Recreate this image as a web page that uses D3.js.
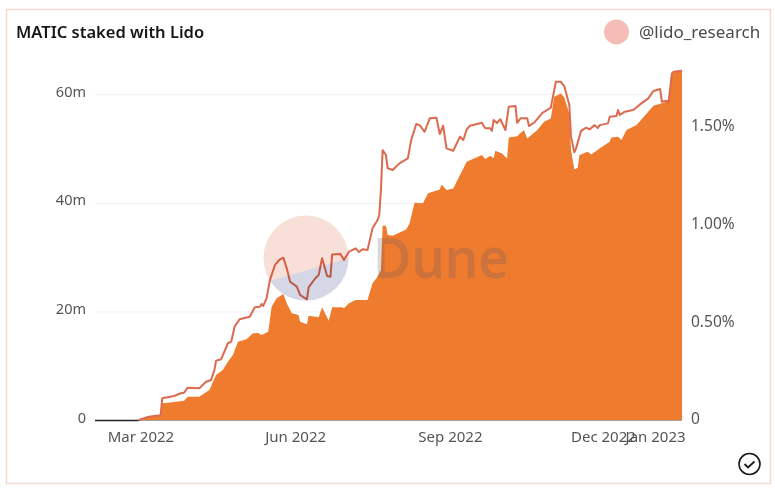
<!DOCTYPE html>
<html>
<head>
<meta charset="utf-8">
<script src="https://cdn.jsdelivr.net/npm/d3@7"></script>
<style>
  html, body { margin: 0; padding: 0; background: #fff; }
  svg { display: block; }
  text { font-family: "Noto Sans", sans-serif; }
</style>
</head>
<body>
<svg id="chart" width="775" height="492"></svg>
<script>
// MATIC staked, in millions
const stakedDates = ["2022-02-28","2022-03-06","2022-03-09","2022-03-13","2022-03-14","2022-03-20","2022-03-27","2022-03-29","2022-04-05","2022-04-11","2022-04-15","2022-04-19","2022-04-22","2022-04-25","2022-04-28","2022-05-03","2022-05-07","2022-05-10","2022-05-12","2022-05-16","2022-05-18","2022-05-21","2022-05-25","2022-05-27","2022-05-30","2022-06-03","2022-06-04","2022-06-08","2022-06-09","2022-06-15","2022-06-17","2022-06-21","2022-06-23","2022-06-29","2022-06-30","2022-07-03","2022-07-07","2022-07-14","2022-07-17","2022-07-20","2022-07-22","2022-07-23","2022-07-25","2022-07-26","2022-07-29","2022-08-06","2022-08-08","2022-08-11","2022-08-16","2022-08-19","2022-08-26","2022-08-27","2022-08-30","2022-09-03","2022-09-07","2022-09-11","2022-09-20","2022-09-22","2022-09-25","2022-09-27","2022-09-28","2022-10-02","2022-10-05","2022-10-06","2022-10-11","2022-10-15","2022-10-17","2022-10-23","2022-10-27","2022-10-31","2022-11-02","2022-11-06","2022-11-08","2022-11-11","2022-11-12","2022-11-14","2022-11-16","2022-11-17","2022-11-22","2022-11-24","2022-11-29","2022-12-05","2022-12-06","2022-12-10","2022-12-12","2022-12-15","2022-12-21","2022-12-27","2022-12-31","2023-01-08","2023-01-09","2023-01-11","2023-01-12","2023-01-17"];
const stakedValues = [0,0.6,0.8,0.87,3.07,3.26,3.55,4.29,4.29,5.52,8.28,9.2,10.73,11.96,14.41,14.85,15.96,16.0,15.64,16.25,20.85,22.4,23.19,21.48,19.64,19.33,18.09,17.61,19.2,18.9,20.74,18.28,20.74,20.74,20.56,21.48,22.09,22.09,25.16,26.38,27.6,35.76,35.76,34.05,33.92,35.1,36.2,40.0,39.89,41.73,42.46,43.38,42.33,42.65,45.1,47.54,48.78,48.04,48.65,48.22,49.57,49.09,48.17,52.03,52.27,53.38,51.85,53.38,54.9,55.53,59.5,60.13,59.4,56.45,49.7,46.14,46.44,48.78,49.38,48.9,50.0,51.22,52.03,52.14,51.54,53.38,54.3,56.45,57.85,58.59,58.4,63.5,64.05,64.3];

// share of total MATIC, in percent
const shareDates = ["2022-02-28","2022-03-06","2022-03-13","2022-03-14","2022-03-21","2022-03-25","2022-03-27","2022-03-29","2022-04-05","2022-04-09","2022-04-12","2022-04-14","2022-04-15","2022-04-18","2022-04-22","2022-04-24","2022-04-26","2022-04-29","2022-05-05","2022-05-08","2022-05-11","2022-05-12","2022-05-13","2022-05-15","2022-05-17","2022-05-20","2022-05-23","2022-05-25","2022-05-27","2022-05-29","2022-06-02","2022-06-04","2022-06-08","2022-06-09","2022-06-13","2022-06-15","2022-06-17","2022-06-20","2022-06-22","2022-06-23","2022-06-28","2022-06-30","2022-07-03","2022-07-07","2022-07-09","2022-07-11","2022-07-14","2022-07-17","2022-07-20","2022-07-21","2022-07-22","2022-07-23","2022-07-25","2022-07-26","2022-07-29","2022-08-02","2022-08-07","2022-08-09","2022-08-12","2022-08-14","2022-08-17","2022-08-20","2022-08-24","2022-08-26","2022-08-28","2022-08-30","2022-09-03","2022-09-07","2022-09-09","2022-09-11","2022-09-13","2022-09-20","2022-09-22","2022-09-25","2022-09-26","2022-09-27","2022-09-29","2022-10-01","2022-10-04","2022-10-06","2022-10-10","2022-10-11","2022-10-13","2022-10-17","2022-10-18","2022-10-21","2022-10-26","2022-10-31","2022-11-03","2022-11-06","2022-11-08","2022-11-11","2022-11-12","2022-11-14","2022-11-15","2022-11-18","2022-11-21","2022-11-23","2022-11-26","2022-11-28","2022-11-29","2022-12-04","2022-12-05","2022-12-09","2022-12-10","2022-12-11","2022-12-14","2022-12-19","2022-12-23","2022-12-28","2022-12-31","2023-01-04","2023-01-05","2023-01-08","2023-01-09","2023-01-11","2023-01-12","2023-01-17"];
const shareValues = [0,0.017,0.024,0.111,0.123,0.137,0.14,0.165,0.162,0.196,0.205,0.256,0.304,0.311,0.393,0.401,0.478,0.516,0.529,0.577,0.58,0.594,0.584,0.623,0.717,0.794,0.823,0.831,0.777,0.708,0.683,0.64,0.618,0.679,0.726,0.742,0.828,0.737,0.734,0.848,0.85,0.819,0.862,0.879,0.86,0.874,0.87,0.982,1.024,1.05,1.178,1.382,1.357,1.289,1.28,1.314,1.34,1.434,1.516,1.51,1.476,1.545,1.548,1.464,1.507,1.391,1.379,1.451,1.434,1.488,1.507,1.522,1.494,1.494,1.481,1.536,1.521,1.54,1.485,1.604,1.608,1.522,1.545,1.545,1.505,1.522,1.573,1.599,1.732,1.732,1.71,1.613,1.451,1.371,1.391,1.481,1.497,1.488,1.51,1.495,1.51,1.519,1.553,1.557,1.587,1.562,1.579,1.587,1.616,1.647,1.685,1.695,1.63,1.635,1.625,1.775,1.783,1.789];

// axis ticks
const leftTicks = [0, 20, 40, 60];
const rightTicks = [0, 0.5, 1, 1.5];
const xTicks = ["2022-03-01", "2022-06-01", "2022-09-01", "2022-12-01", "2023-01-01"];

const parse = d3.utcParse("%Y-%m-%d");
const svg = d3.select("#chart");

const x = d3.scaleUtc()
  .domain([parse("2022-02-02"), parse("2023-01-17")])
  .range([95, 682]);
const yLeft = d3.scaleLinear().domain([0, 65]).range([420, 67]);
const yRight = d3.scaleLinear().domain([0, 1.8]).range([420, 68.5]);

// card border
svg.append("rect")
  .attr("x", 6.5).attr("y", 9.5)
  .attr("width", 764).attr("height", 474)
  .attr("fill", "#fff")
  .attr("stroke", "#f3d9d0")
  .attr("stroke-width", 1.5);

// title and credit
svg.append("text")
  .attr("x", 16).attr("y", 37.5)
  .attr("font-size", 16.5).attr("font-weight", 600)
  .attr("fill", "#161616")
  .text("MATIC staked with Lido");
svg.append("circle")
  .attr("cx", 616.5).attr("cy", 32).attr("r", 12.5)
  .attr("fill", "#f4bdb6");
svg.append("text")
  .attr("x", 639).attr("y", 38)
  .attr("font-size", 17)
  .attr("fill", "#4a4a4a")
  .text("@lido_research");

// gridlines + left axis
const gLeft = svg.append("g")
  .attr("transform", "translate(95,0)")
  .call(d3.axisLeft(yLeft).tickValues(leftTicks).tickSize(0).tickPadding(9)
    .tickFormat((d) => (d === 0 ? "0" : d + "m")));
gLeft.select(".domain").remove();
gLeft.selectAll("line")
  .attr("x2", 587)
  .attr("stroke", (d) => (d === 0 ? "none" : "#f0f0f0"));
gLeft.selectAll("text")
  .attr("font-size", 14.5).attr("fill", "#555").attr("dy", "0.15em");

// right axis
const gRight = svg.append("g")
  .attr("transform", "translate(682,0)")
  .call(d3.axisRight(yRight).tickValues(rightTicks).tickSize(0).tickPadding(9)
    .tickFormat((d) => (d === 0 ? "0" : d.toFixed(2) + "%")));
gRight.select(".domain").remove();
gRight.selectAll("text")
  .attr("font-size", 15.5).attr("fill", "#555").attr("dy", "0.25em");

// bottom axis
const gBottom = svg.append("g")
  .attr("transform", "translate(0,420)")
  .call(d3.axisBottom(x).tickValues(xTicks.map(parse)).tickSize(0).tickPadding(11)
    .tickFormat(d3.utcFormat("%b %Y")));
gBottom.select(".domain").remove();
gBottom.selectAll("text")
  .attr("font-size", 15).attr("fill", "#555");

// baseline, dark where nothing is staked yet
svg.append("line")
  .attr("x1", x.range()[0]).attr("x2", x.range()[1])
  .attr("y1", 420.5).attr("y2", 420.5)
  .attr("stroke", "#a9a29c").attr("stroke-width", 1.2);
svg.append("line")
  .attr("x1", x.range()[0]).attr("x2", x(parse(stakedDates[0])))
  .attr("y1", 420.5).attr("y2", 420.5)
  .attr("stroke", "#222").attr("stroke-width", 1.3);

// staked area
const area = d3.area()
  .x((d, i) => x(parse(stakedDates[i])))
  .y0(yLeft(0))
  .y1((d) => yLeft(d));
svg.append("path")
  .datum(stakedValues)
  .attr("d", area)
  .attr("fill", "#ef7b2e");

// share line
const line = d3.line()
  .x((d, i) => x(parse(shareDates[i])))
  .y((d) => yRight(d));
svg.append("path")
  .datum(shareValues)
  .attr("d", line)
  .attr("fill", "none")
  .attr("stroke", "#dd6a4e")
  .attr("stroke-width", 2)
  .attr("stroke-linejoin", "round");

// Dune watermark
const mark = svg.append("g").style("mix-blend-mode", "multiply");
const clip = svg.append("defs").append("clipPath").attr("id", "lower");
clip.append("path").attr("d", "M260,284L352,257V310H260Z");
mark.append("circle")
  .attr("cx", 306).attr("cy", 258).attr("r", 42.5)
  .attr("fill", "#f8e0d9");
mark.append("circle")
  .attr("cx", 306).attr("cy", 258).attr("r", 42.5)
  .attr("clip-path", "url(#lower)")
  .attr("fill", "#d6d7e6");
svg.append("text")
  .attr("x", 373).attr("y", 278)
  .attr("font-size", 56).attr("font-weight", 600)
  .attr("textLength", 136).attr("lengthAdjust", "spacingAndGlyphs")
  .attr("fill", "#555566").attr("opacity", 0.22)
  .text("Dune");

// check mark
svg.append("circle")
  .attr("cx", 749.5).attr("cy", 464).attr("r", 10.5)
  .attr("fill", "#fff").attr("stroke", "#1a1a1a").attr("stroke-width", 1.6);
svg.append("path")
  .attr("d", "M744.5,464l3.5,3.5l6.5,-6")
  .attr("fill", "none").attr("stroke", "#1a1a1a").attr("stroke-width", 1.8);
</script>
</body>
</html>
